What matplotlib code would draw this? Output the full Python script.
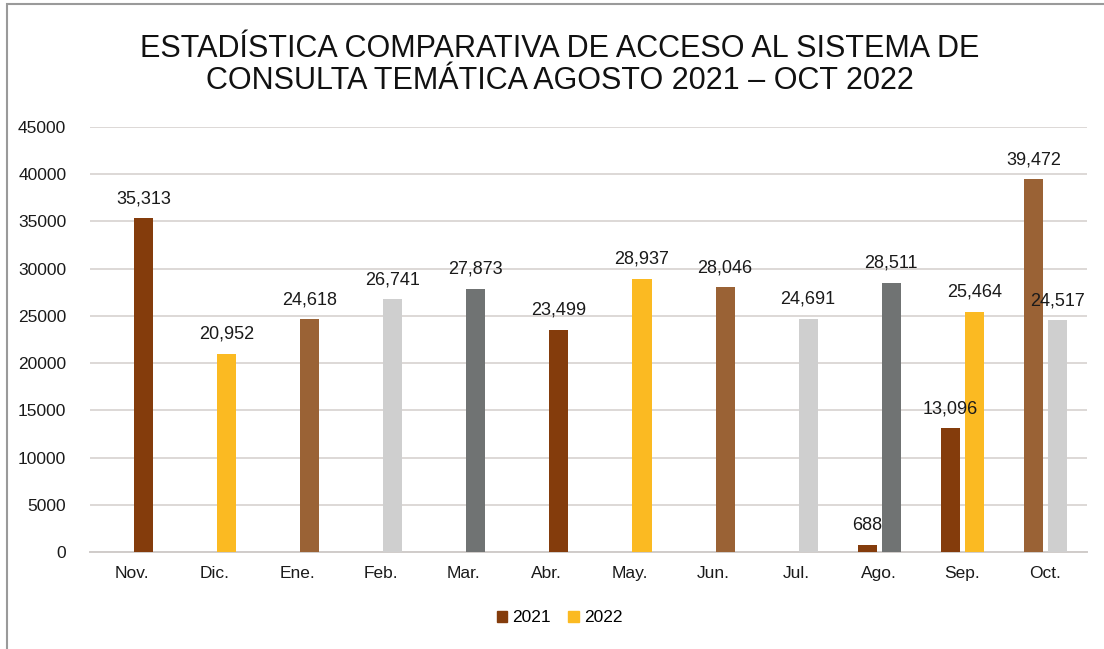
import numpy as np
import matplotlib
matplotlib.use("Agg")
import matplotlib.pyplot as plt
from matplotlib.patches import Rectangle, Patch

# data
meses = ["Nov.", "Dic.", "Ene.", "Feb.", "Mar.", "Abr.", "May.", "Jun.",
         "Jul.", "Ago.", "Sep.", "Oct."]
# Aug-Oct 2021 (left bar in the last three months)
acceso_2021 = [None, None, None, None, None, None, None, None, None,
               688, 13096, 39472]
# Nov 2021 - Oct 2022 (right bar)
acceso_2022 = [35313, 20952, 24618, 26741, 27873, 23499, 28937, 28046,
               24691, 28511, 25464, 24517]
y_ticks = [0, 5000, 10000, 15000, 20000, 25000, 30000, 35000, 40000, 45000]

BROWN = "#843C0C"
YELLOW = "#FBBA22"
TAN = "#9A6235"
LGRAY = "#CFCFCF"
DGRAY = "#707373"
colores_2021 = [None] * 9 + [BROWN, BROWN, TAN]
colores_2022 = [BROWN, YELLOW, TAN, LGRAY, DGRAY, BROWN, YELLOW, TAN,
                LGRAY, DGRAY, YELLOW, LGRAY]

plt.rcParams["font.family"] = ["Liberation Sans", "DejaVu Sans"]

fig = plt.figure(figsize=(11.04, 6.49), dpi=100)
ax = fig.add_axes([0.0815, 0.1495, 0.903, 0.6548])

x = np.arange(len(meses))
w = 0.23
off = 0.145


def draw(vals, cols, shift):
    idx = [i for i, v in enumerate(vals) if v is not None]
    xs = x[idx] + shift
    hs = [vals[i] for i in idx]
    ax.bar(xs, hs, width=w, color=[cols[i] for i in idx], zorder=3)
    for xi, h in zip(xs, hs):
        ax.annotate(f"{h:,}", (xi, h), xytext=(0, 8), textcoords="offset points",
                    ha="center", va="bottom", fontsize=13, color="#1A1A1A",
                    zorder=4)


draw(acceso_2021, colores_2021, -off)
draw(acceso_2022, colores_2022, off)

ax.set_xlim(-0.5, len(meses) - 0.5)
ax.set_ylim(0, 45000)
ax.set_yticks(y_ticks)
ax.set_yticklabels([str(t) for t in y_ticks], fontsize=12.5, color="#1A1A1A")
ax.set_xticks(x)
ax.set_xticklabels(meses, fontsize=12.5, color="#1A1A1A")
ax.tick_params(length=0, pad=10)
ax.tick_params(axis="y", pad=17)
ax.grid(axis="y", color="#DDD8D6", linewidth=1.4, zorder=0)
for s in ["top", "right", "left"]:
    ax.spines[s].set_visible(False)
ax.spines["bottom"].set_color("#D0CCCA")
ax.spines["bottom"].set_linewidth(1.4)

fig.text(0.507, 0.9, "ESTADÍSTICA COMPARATIVA DE ACCESO AL SISTEMA DE\n"
         "CONSULTA TEMÁTICA AGOSTO 2021 – OCT 2022",
         ha="center", va="center", fontsize=22, color="#111111",
         linespacing=1.1)

handles = [Patch(color=BROWN, label="2021"), Patch(color=YELLOW, label="2022")]
fig.legend(handles=handles, loc="center", bbox_to_anchor=(0.507, 0.048),
           ncol=2, frameon=False, fontsize=12.5, handlelength=0.6,
           handleheight=0.6, handletextpad=0.3, columnspacing=1.0)

fig.patches.append(Rectangle((0.0065, -0.01), 1.2, 1.004, transform=fig.transFigure,
                             fill=False, edgecolor="#9A9A9A", linewidth=1.5))

fig.savefig("out.png", dpi=100)
